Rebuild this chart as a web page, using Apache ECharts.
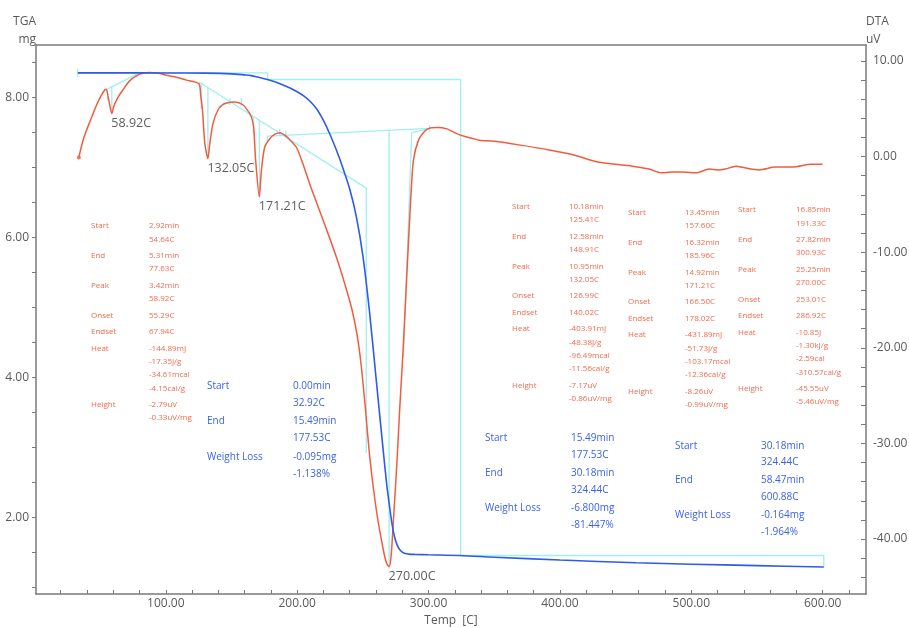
<!DOCTYPE html>
<html>
<head>
<meta charset="utf-8">
<script src="https://cdn.jsdelivr.net/npm/echarts@6/dist/echarts.min.js"></script>
<style>
html,body{margin:0;padding:0;background:#fff;}
#chart{width:909px;height:628px;}
</style>
</head>
<body>
<div id="chart"></div>
<script>
// ---------- DATA ----------
// DTA curve (temperature C, uV)
const dtaTemp = [33.8,35.5,37.1,39.5,42.2,44.8,47.3,50.5,53.6,54.6,56.5,58.9,60.5,62.5,65,67.5,70.5,73.9,78.9,82,87,95.4,100.5,108,115.7,120.8,125.4,126.5,127.9,129.7,132.05,133.5,136,139.8,143,146.2,152.5,158.8,163.9,165.5,166.9,168.4,171.2,172.8,175.3,179.3,183.1,187,190.5,194.6,199.7,204.7,209.8,214.9,222.5,230.1,236.5,241.8,245.6,248.7,251.7,255.5,260.6,265.6,268,270,271.5,272.8,275.9,278,279.7,280.9,283.4,286,288.5,292.3,297.4,301.2,307,313.9,321.5,327.8,333.7,338.8,350,370,392,410,430,455,468,477,485,493,503.6,513.7,520,526,534,541.6,551.7,564,577,591,600];
const dtaValue = [-0.1,0.9,1.74,2.7,3.65,4.55,5.4,6.3,7.0,7.05,6.0,4.5,5.3,5.9,6.5,7.0,7.6,8.1,8.55,8.7,8.8,8.7,8.5,8.3,8.0,7.85,7.6,6.5,4.9,1.4,-0.2,1.4,3.5,4.9,5.4,5.6,5.7,5.4,4.5,4.0,3.1,-0.4,-4.2,-1.4,1.0,1.9,2.35,2.5,2.25,1.74,0.9,-0.88,-2.97,-4.85,-7.68,-10.61,-13.43,-16.05,-18.66,-21.8,-25.98,-31.74,-37.28,-41.15,-42.5,-42.9,-41.8,-39.1,-32.1,-26.5,-22.5,-19.5,-12.6,-5.6,-0.4,1.7,2.7,3.0,3.05,2.9,2.4,2.1,1.9,1.7,1.6,1.2,0.7,0.2,-0.6,-1.0,-1.3,-1.7,-1.6,-1.6,-1.7,-1.3,-1.4,-1.3,-1.0,-1.2,-1.4,-1.1,-1.1,-0.8,-0.8];

// TGA curve (temperature C, mg)
const tgaTemp = [33,60,100,130,150,160,165,170,175,180,185,190,195,200,205,210,215,220,225,230,235,240,245,250,255,260,265,268,270,272,274,276,278,281,285,290,300,323.6,350,400,458,500,550,600.88];
const tgaMass = [8.349,8.349,8.348,8.345,8.335,8.32,8.31,8.289,8.264,8.239,8.209,8.169,8.129,8.079,8.019,7.939,7.829,7.669,7.469,7.239,6.979,6.689,6.299,5.739,4.949,3.999,3.049,2.499,2.199,1.929,1.729,1.609,1.539,1.489,1.474,1.469,1.464,1.454,1.43,1.39,1.35,1.33,1.31,1.29];

// TGA analysis steps (temperature, mass)
const tgaStepTemp = [33.0, 177.53, 324.44, 600.88];
const tgaStepMass = [8.349, 8.254, 1.454, 1.290];

// DTA analysis guide lines (temperature, uV)
const dtaGuides = [
  [[54.64,7.0],[77.63,8.6]],
  [[55.6,7.05],[55.6,5.9]],
  [[58.92,7.3],[58.92,4.5]],
  [[77.63,8.3],[77.63,8.9]],
  [[125.41,7.8],[252.6,-3.3],[252.6,-31]],
  [[126.99,7.66],[126.99,5.0]],
  [[132.05,7.22],[132.05,-0.2]],
  [[140.02,5.2],[148.91,5.75]],
  [[148.91,5.4],[148.91,6.1]],
  [[157.6,5.4],[157.6,6.1]],
  [[166.5,4.2],[166.5,2.4]],
  [[171.21,3.8],[171.21,-4.2]],
  [[177.3,1.5],[177.3,2.15],[300.93,2.96]],
  [[186.7,2.2],[186.7,2.9]],
  [[191.33,2.0],[191.33,2.7]],
  [[270.0,2.75],[270.0,-42.9]],
  [[287.2,2.5],[280.9,-21]],
  [[287.2,2.5],[301.2,2.95]],
  [[300.93,2.6],[300.93,3.3]]
];

// Peak labels
const peakTemp = [58.92, 132.05, 171.21, 270.00];
const peakValue = [4.5, -0.2, -4.2, -42.9];
const peakLabel = ['58.92C', '132.05C', '171.21C', '270.00C'];

// Axis ticks / labels
const xTicks = [20,40,60,80,100,120,140,160,180,200,220,240,260,280,300,320,340,360,380,400,420,440,460,480,500,520,540,560,580,600,620];
const xLabels = [100,200,300,400,500,600];
const tgaTicks = [1,1.5,2,2.5,3,3.5,4,4.5,5,5.5,6,6.5,7,7.5,8,8.5];
const tgaLabels = [2,4,6,8];
const dtaTicks = [-44,-42,-40,-38,-36,-34,-32,-30,-28,-26,-24,-22,-20,-18,-16,-14,-12,-10,-8,-6,-4,-2,0,2,4,6,8,10];
const dtaLabels = [-40,-30,-20,-10,0,10];

// DTA result tables
const dtaTable1 = [['Start',['2.92min','54.64C']],['End',['5.31min','77.63C']],['Peak',['3.42min','58.92C']],['Onset',['55.29C']],['Endset',['67.94C']],['Heat',['-144.89mJ','-17.35J/g','-34.61mcal','-4.15cal/g']],['Height',['-2.79uV','-0.33uV/mg']]];
const dtaTable2 = [['Start',['10.18min','125.41C']],['End',['12.58min','148.91C']],['Peak',['10.95min','132.05C']],['Onset',['126.99C']],['Endset',['140.02C']],['Heat',['-403.91mJ','-48.38J/g','-96.49mcal','-11.56cal/g']],['Height',['-7.17uV','-0.86uV/mg']]];
const dtaTable3 = [['Start',['13.45min','157.60C']],['End',['16.32min','185.96C']],['Peak',['14.92min','171.21C']],['Onset',['166.50C']],['Endset',['178.02C']],['Heat',['-431.89mJ','-51.73J/g','-103.17mcal','-12.36cal/g']],['Height',['-8.26uV','-0.99uV/mg']]];
const dtaTable4 = [['Start',['16.85min','191.33C']],['End',['27.82min','300.93C']],['Peak',['25.25min','270.00C']],['Onset',['253.01C']],['Endset',['286.92C']],['Heat',['-10.85J','-1.30kJ/g','-2.59cal','-310.57cal/g']],['Height',['-45.55uV','-5.46uV/mg']]];

// TGA result tables
const tgaTable1 = [['Start',['0.00min','32.92C']],['End',['15.49min','177.53C']],['Weight Loss',['-0.095mg','-1.138%']]];
const tgaTable2 = [['Start',['15.49min','177.53C']],['End',['30.18min','324.44C']],['Weight Loss',['-6.800mg','-81.447%']]];
const tgaTable3 = [['Start',['30.18min','324.44C']],['End',['58.47min','600.88C']],['Weight Loss',['-0.164mg','-1.964%']]];

// ---------- BUILD ----------
const RED = '#f25c3e', BLUE = '#2f5bea', CYAN = '#9feff3';
const FONT = '"Open Sans", "Noto Sans", sans-serif';
const fmt2 = v => Number(v).toFixed(2);
const zip = (a, b) => a.map((v, i) => [v, b[i]]);

const series = [];

// TGA bracket lines built from step table
const bracket = [[tgaStepTemp[0], tgaStepMass[0] + 0.06], [tgaStepTemp[0], tgaStepMass[0] - 0.06], '-'];
for (let i = 0; i < tgaStepTemp.length - 1; i++) {
  bracket.push([tgaStepTemp[i], tgaStepMass[i]]);
  bracket.push([tgaStepTemp[i + 1], tgaStepMass[i]]);
  bracket.push([tgaStepTemp[i + 1], tgaStepMass[i + 1]]);
  bracket.push('-');
}
series.push({
  type: 'line', xAxisIndex: 0, yAxisIndex: 0, data: bracket, showSymbol: false, silent: true,
  lineStyle: { color: CYAN, width: 1.3 }, z: 2, connectNulls: false
});

dtaGuides.forEach(seg => {
  series.push({
    type: 'line', xAxisIndex: 0, yAxisIndex: 1, data: seg, showSymbol: false, silent: true,
    lineStyle: { color: CYAN, width: 1.3 }, z: 2
  });
});

series.push({
  type: 'line', name: 'DTA', xAxisIndex: 0, yAxisIndex: 1, data: zip(dtaTemp, dtaValue),
  showSymbol: false, smooth: 0.25, lineStyle: { color: RED, width: 1.5 }, itemStyle: { color: RED }, z: 3
});
series.push({
  type: 'scatter', xAxisIndex: 0, yAxisIndex: 1, symbolSize: 4, silent: true,
  data: [[dtaTemp[0], dtaValue[0]]], itemStyle: { color: RED }, z: 3
});
series.push({
  type: 'line', name: 'TGA', xAxisIndex: 0, yAxisIndex: 0, data: zip(tgaTemp, tgaMass),
  showSymbol: false, smooth: 0.3, lineStyle: { color: BLUE, width: 1.6 }, itemStyle: { color: BLUE }, z: 4
});
series.push({
  type: 'scatter', xAxisIndex: 0, yAxisIndex: 1, symbolSize: 1, silent: true,
  itemStyle: { color: 'rgba(0,0,0,0)' },
  data: peakTemp.map((t, i) => ({ value: [t, peakValue[i]], name: peakLabel[i] })),
  label: {
    show: true, position: [0, 4], align: 'left', verticalAlign: 'top',
    formatter: p => p.name, color: '#333', fontSize: 12.5, fontFamily: FONT
  }, z: 5
});

// text tables
const graphics = [];
function addTable(rows, xl, xv, y0, lineH, gap, size, color) {
  let y = y0;
  rows.forEach(([lab, vals]) => {
    graphics.push({ type: 'text', x: xl, y: y, silent: true,
      style: { text: lab, fill: color, fontSize: size, fontFamily: FONT, verticalAlign: 'middle', align: 'left' } });
    vals.forEach((v, k) => {
      graphics.push({ type: 'text', x: xv, y: y + k * lineH, silent: true,
        style: { text: v, fill: color, fontSize: size, fontFamily: FONT, verticalAlign: 'middle', align: 'left' } });
    });
    y += vals.length * lineH + gap;
  });
}
const RT = '#f26a4e', BT = '#3a62ee';
addTable(dtaTable1, 91, 149, 226, 13.3, 3.2, 8, RT);
addTable(dtaTable2, 512, 569, 206.7, 13.3, 3.2, 8, RT);
addTable(dtaTable3, 628, 685, 212.7, 13.3, 3.2, 8, RT);
addTable(dtaTable4, 738, 796, 210, 13.3, 3.2, 8, RT);
addTable(tgaTable1, 207, 293, 385.7, 17, 1.5, 10, BT);
addTable(tgaTable2, 485, 571, 438.3, 16.7, 1.5, 10, BT);
addTable(tgaTable3, 675, 761, 445.7, 16.2, 2.5, 10, BT);

const AX = '#7a7a7a', LBL = '#5a5a5a';

const option = {
  animation: false,
  backgroundColor: '#fff',
  grid: { left: 36, right: 43, top: 45, bottom: 34, containLabel: false, outerBoundsMode: 'none' },
  xAxis: [{
    type: 'value', min: 1.2, max: 633, position: 'bottom',
    axisLine: { show: true, onZero: false, lineStyle: { color: AX, width: 1.5 } },
    axisTick: { show: true, inside: true, length: 4, customValues: xTicks, lineStyle: { color: AX } },
    axisLabel: { customValues: xLabels, formatter: fmt2, color: LBL, fontSize: 12, fontFamily: FONT, margin: 4 },
    splitLine: { show: false },
    name: 'Temp  [C]', nameLocation: 'middle', nameGap: 21,
    nameTextStyle: { color: LBL, fontSize: 12, fontFamily: FONT }
  }, {
    type: 'value', min: 1.2, max: 633, position: 'top',
    axisLine: { show: true, onZero: false, lineStyle: { color: AX, width: 1.5 } },
    axisTick: { show: false }, axisLabel: { show: false }, splitLine: { show: false }
  }],
  yAxis: [{
    type: 'value', min: 0.904, max: 8.747, position: 'left', alignTicks: false,
    axisLine: { show: true, onZero: false, lineStyle: { color: AX, width: 1.5 } },
    axisTick: { show: true, inside: false, length: 4, customValues: tgaTicks, lineStyle: { color: AX } },
    axisLabel: { customValues: tgaLabels, formatter: fmt2, color: LBL, fontSize: 12, fontFamily: FONT, margin: 7 },
    splitLine: { show: false },
    name: 'TGA\nmg', nameLocation: 'end', nameGap: -4,
    nameTextStyle: { color: LBL, fontSize: 12, fontFamily: FONT, align: 'right', verticalAlign: 'bottom', lineHeight: 18 }
  }, {
    type: 'value', min: -45.753, max: 11.674, position: 'right', alignTicks: false,
    axisLine: { show: true, onZero: false, lineStyle: { color: AX, width: 1.5 } },
    axisTick: { show: true, inside: true, length: 5, customValues: dtaTicks, lineStyle: { color: AX } },
    axisLabel: { customValues: dtaLabels, formatter: fmt2, color: LBL, fontSize: 12, fontFamily: FONT, margin: 7 },
    splitLine: { show: false },
    name: 'DTA\nuV', nameLocation: 'end', nameGap: -4,
    nameTextStyle: { color: LBL, fontSize: 12, fontFamily: FONT, align: 'left', verticalAlign: 'bottom', lineHeight: 18 }
  }],
  series: series,
  graphic: graphics
};

const chart = echarts.init(document.getElementById('chart'), null, { renderer: 'canvas' });
chart.setOption(option);
</script>
</body>
</html>
